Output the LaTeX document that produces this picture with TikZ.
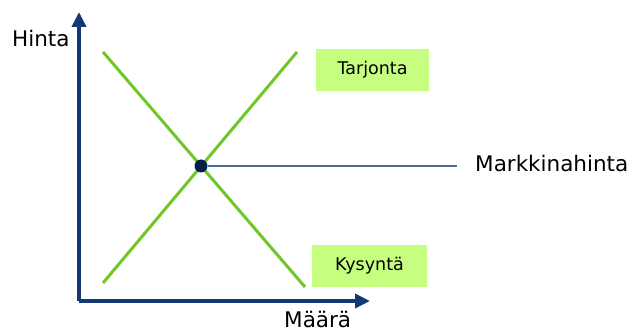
\documentclass[tikz,border=0pt]{standalone}
\usepackage{fontspec}
\setmainfont{DejaVu Sans}
\usepackage{tikz}
\usetikzlibrary{arrows.meta}

\definecolor{akseli}{RGB}{20,55,120}
\definecolor{vihrea}{RGB}{112,200,40}
\definecolor{laatikko}{RGB}{198,255,128}
\definecolor{piste}{RGB}{5,30,75}
\definecolor{viiva}{RGB}{74,106,150}

\begin{document}
\begin{tikzpicture}[
  x=1pt, y=1pt,
  axis/.style={draw=akseli, line width=3.5pt, -{Triangle[length=15pt,width=14pt]}},
  curve/.style={draw=vihrea, line width=3pt},
  tag/.style={rectangle, fill=laatikko, minimum width=113pt, minimum height=42pt,
              inner sep=0pt, font=\fontsize{17.5}{20}\selectfont},
  lbl/.style={inner sep=0pt, font=\fontsize{21.5}{24}\selectfont}
]
  \useasboundingbox (0,0) rectangle (632,332);

  \coordinate (o)  at (79,31);
  \coordinate (yk) at (79,320);
  \coordinate (xk) at (370,31);
  \coordinate (s1) at (103,49);
  \coordinate (s2) at (297,280);
  \coordinate (d1) at (103,280);
  \coordinate (d2) at (305,45);
  \coordinate (hk) at (457,166);

  \node[tag] (tarjonta) at (372.5,262) {Tarjonta};
  \node[tag, minimum width=115pt] (kysynta) at (369.5,66) {Kysyntä};

  \node[lbl, anchor=base west] (hinta)  at (12,285)  {Hinta};
  \node[lbl, anchor=base west] (maara)  at (284,5)   {Määrä};
  \node[lbl, anchor=base west] (mhinta) at (475,160) {Markkinahinta};

  \draw[axis] (o) -- (yk);
  \draw[axis] (o) -- (xk);

  \draw[curve] (s1) -- (s2);
  \draw[curve] (d1) -- (d2);

  \node[circle, fill=piste, minimum size=13pt, inner sep=0pt] (eq) at (201,166) {};
  \draw[viiva, line width=1.5pt] (eq) -- (hk);
\end{tikzpicture}
\end{document}
